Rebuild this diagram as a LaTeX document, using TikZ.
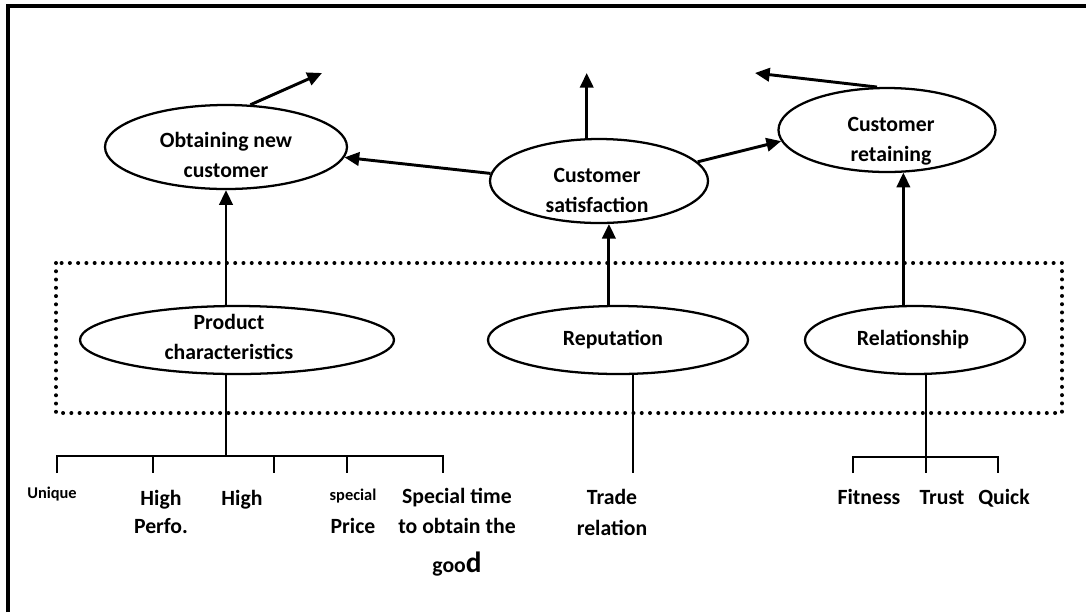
\documentclass[tikz,border=0pt]{standalone}
\usepackage{fontspec}
\setmainfont{Carlito}
\usetikzlibrary{shapes.geometric,arrows.meta,calc}
\tikzset{
  ell/.style={draw, ellipse, line width=1.7pt, inner sep=0pt},
  lbl/.style={font=\bfseries\fontsize{16.3}{22.5}\selectfont, align=center, anchor=base, inner sep=0pt},
  smalllbl/.style={font=\bfseries\fontsize{12.3}{13}\selectfont, anchor=base, inner sep=0pt},
  arr/.style={line width=2.2pt, -{Triangle[length=11pt,width=10pt]}},
  conn/.style={line width=1.6pt},
  dotbox/.style={line width=3pt, dash pattern=on 0pt off 6.2pt, line cap=round},
  frame/.style={line width=2.4pt}
}
\begin{document}
\begin{tikzpicture}[x=0.75pt,y=-0.75pt]
\useasboundingbox (0,0) rectangle (1086,612);
% frame
\draw[frame] (8,612) -- (8,6) -- (1086,6);
% dotted box
\draw[dotbox] (56,263) rectangle (1062,413);
% ellipses
\node[ell, minimum width=181.5pt, minimum height=63pt] (obt) at (226,147) {};
\node[ell, minimum width=163.5pt, minimum height=63pt] (sat) at (599,181) {};
\node[ell, minimum width=162.75pt, minimum height=63pt] (ret) at (887,130) {};
\node[ell, minimum width=235.5pt, minimum height=51pt] (prod) at (237,340) {};
\node[ell, minimum width=195pt, minimum height=51pt] (rep) at (618,340) {};
\node[ell, minimum width=165pt, minimum height=51pt] (rel) at (915,340) {};
% ellipse texts (base anchor = last line)
\node[lbl] (obtT) at (226,177) {Obtaining new\\customer};
\node[lbl] (satT) at (597,212) {Customer\\satisfaction};
\node[lbl] (retT) at (891,161) {Customer\\retaining};
\node[lbl] (prodT) at (229,359) {Product\\characteristics};
\node[lbl] (repT) at (613,345) {Reputation};
\node[lbl] (relT) at (913,345) {Relationship};
% free ends
\coordinate (e1) at (322,73);
\coordinate (e2) at (587,73);
\coordinate (e3) at (755,73);
% arrows
\draw[arr] (obt.60) -- (e1);
\draw[arr] (sat.106) -- (sat.106 |- e2);
\draw[arr] (ret.103) -- (e3);
\draw[arr] (sat.176) -- (obt.-5);
\draw[arr] (sat.11) -- (ret.186);
\draw[arr] (prod.north -| obt.south) -- (obt.south);
\draw[arr] (rep.north -| sat.-77) -- (sat.-77);
\draw[arr] (rel.north -| ret.-69) -- (ret.-69);
% lower tree: product
\coordinate (pb) at (226,456);
\coordinate (t1) at (57,473);
\coordinate (t2) at (153,473);
\coordinate (t3) at (274,473);
\coordinate (t4) at (347,473);
\coordinate (t5) at (443,473);
\draw[conn] (prod.south -| pb) -- (pb);
\draw[conn] (t1) -- (t1 |- pb) -- (t5 |- pb) -- (t5);
\draw[conn] (t2 |- pb) -- (t2);
\draw[conn] (t3 |- pb) -- (t3);
\draw[conn] (t4 |- pb) -- (t4);
% reputation
\coordinate (rb) at (633,473);
\draw[conn] (rep.south -| rb) -- (rb);
% relationship
\coordinate (lb) at (926,457);
\coordinate (u1) at (853,473);
\coordinate (u2) at (926,473);
\coordinate (u3) at (998,473);
\draw[conn] (rel.south -| lb) -- (lb);
\draw[conn] (u1) -- (u1 |- lb) -- (u3 |- lb) -- (u3);
\draw[conn] (lb) -- (u2);
% leaf labels
\node[smalllbl] (l1) at (52,498) {Unique};
\node[lbl, font=\bfseries\fontsize{16.3}{21}\selectfont] (l2) at (161,533) {High\\Perfo.};
\node[lbl] (l3) at (242,505) {High};
\node[smalllbl] (l4a) at (353,500) {special};
\node[lbl] (l4b) at (353,533) {Price};
\node[lbl] (l5) at (457,572) {Special time\\to obtain the\\[6.75pt]goo{\fontsize{22}{22}\selectfont d}};
\node[lbl, font=\bfseries\fontsize{16.3}{23}\selectfont] (l6) at (612,535) {Trade\\relation};
\node[lbl] (l7) at (869,504) {Fitness};
\node[lbl] (l8) at (942,504) {Trust};
\node[lbl] (l9) at (1004,504) {Quick};
\end{tikzpicture}
\end{document}
